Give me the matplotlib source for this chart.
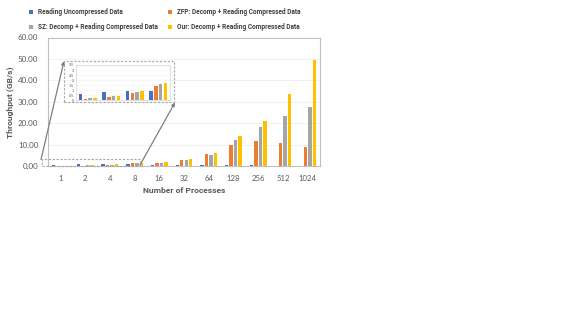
import matplotlib
matplotlib.use("Agg")
import matplotlib.pyplot as plt
from matplotlib.patches import Rectangle, FancyArrowPatch
import numpy as np

plt.rcParams['font.family'] = ['Lato', 'DejaVu Sans']
BOLD_FAMILY = ['Roboto', 'DejaVu Sans']

processes = ["1", "2", "4", "8", "16", "32", "64", "128", "256", "512", "1024"]
series_names = ["Reading Uncompressed Data",
                "ZFP: Decomp + Reading Compressed Data",
                "SZ: Decomp + Reading Compressed Data",
                "Our: Decomp + Reading Compressed Data"]
uncompressed = [0.65, 0.85, 0.95, 0.95, 0.8, 0.8, 0.8, 0.8, 0.7, 0.3, 0.3]
zfp = [0.17, 0.37, 0.71, 1.43, 1.35, 2.8, 5.6, 9.9, 12.0, 10.9, 9.0]
sz = [0.24, 0.44, 0.82, 1.6, 1.7, 3.1, 5.3, 12.2, 18.4, 23.3, 27.5]
ours = [0.24, 0.44, 0.88, 1.7, 1.9, 3.3, 6.4, 13.9, 21.1, 33.5, 49.3]
yticks = [0, 10, 20, 30, 40, 50, 60]
inset_count = 4
inset_yticks = [0, 0.5, 1, 1.5, 2, 2.5, 3, 3.5]

colors = ["#4472C4", "#ED7D31", "#A5A5A5", "#FFC000"]
W, H = 577, 325
fig = plt.figure(figsize=(W / 100, H / 100), dpi=100)

def fx(px):
    return px / W

def fy(py):
    return 1 - py / H

ax = fig.add_axes([fx(48), fy(166.3), fx(320 - 48), (166.3 - 37.5) / H])
x = np.arange(len(processes))
data = [uncompressed, zfp, sz, ours]
bw, step = 0.14, 0.182
handles = []
for i, (vals, c) in enumerate(zip(data, colors)):
    h = ax.bar(x + (i - 1.5) * step, vals, width=bw, color=c, zorder=3)
    handles.append(h)
ax.set_xlim(-0.5, len(processes) - 0.5)
ax.set_ylim(0, 60)
ax.set_yticks(yticks)
ax.set_yticklabels([f"{v:.2f}" for v in yticks], fontsize=5.8, color="#595959")
ax.set_xticks(x)
ax.set_xticklabels(processes, fontsize=5.6, color="#595959")
ax.tick_params(length=0, pad=6)
ax.tick_params(axis='y', pad=7)
ax.grid(axis='y', color="#efefef", lw=0.6, zorder=0)
for s in ax.spines.values():
    s.set_color("#bfbfbf")
    s.set_linewidth(0.8)
ax.set_xlabel("Number of Processes", fontsize=6.1, color="#595959", fontweight='bold',
              family=BOLD_FAMILY, labelpad=4)
ax.set_ylabel("Throughput (GB/s)", fontsize=6.1, color="#595959", fontweight='bold',
              family=BOLD_FAMILY, labelpad=3)

# inset
axi = fig.add_axes([fx(76), fy(100.3), fx(170 - 76), (100.3 - 65) / H])
xi = np.arange(inset_count)
for i, (vals, c) in enumerate(zip(data, colors)):
    axi.bar(xi + (i - 1.5) * 0.2, vals[:inset_count], width=0.15, color=c, zorder=3)
axi.set_xlim(-0.5, inset_count - 0.5)
axi.set_ylim(0, 3.5)
axi.set_yticks(inset_yticks)
axi.set_yticklabels([f"{v:g}" for v in inset_yticks], fontsize=2.7, color="#595959")
axi.set_xticks([])
axi.tick_params(length=0, pad=1.5)
axi.grid(axis='y', color="#f2f2f2", lw=0.4, zorder=0)
for s in axi.spines.values():
    s.set_color("#d9d9d9")
    s.set_linewidth(0.6)

# dashed boxes
fig.patches.append(Rectangle((fx(64), fy(102)), fx(174 - 64), (102 - 61) / H,
                             transform=fig.transFigure, fill=False, ls=(0, (2, 1.5)),
                             ec="#a6a6a6", lw=0.8))
fig.patches.append(Rectangle((fx(41.5), fy(166)), fx(140 - 41.5), (166 - 159.3) / H,
                             transform=fig.transFigure, fill=False, ls=(0, (2, 1.5)),
                             ec="#a6a6a6", lw=0.8, zorder=5))
# arrows
arrowprops = dict(arrowstyle="-|>", color="#7f7f7f", lw=0.9, mutation_scale=5, shrinkA=0, shrinkB=0)
fig.add_artist(FancyArrowPatch((fx(41), fy(159.5)), (fx(64), fy(61)),
               transform=fig.transFigure, **arrowprops))
fig.add_artist(FancyArrowPatch((fx(140), fy(165)), (fx(175), fy(102.5)),
               transform=fig.transFigure, **arrowprops))

order = [0, 2, 1, 3]
leg = fig.legend([handles[k] for k in order], [series_names[k] for k in order],
                 loc='upper left', bbox_to_anchor=(fx(29), fy(8.5)),
                 ncol=2, frameon=False,
                 prop={'family': BOLD_FAMILY, 'weight': 'bold', 'size': 4.7},
                 handlelength=0.6, handleheight=0.6,
                 handletextpad=0.8, columnspacing=1.5, labelspacing=1.0, borderaxespad=0,
                 borderpad=0)
for t in leg.get_texts():
    t.set_color("#404040")

fig.savefig("out.png", dpi=100)
